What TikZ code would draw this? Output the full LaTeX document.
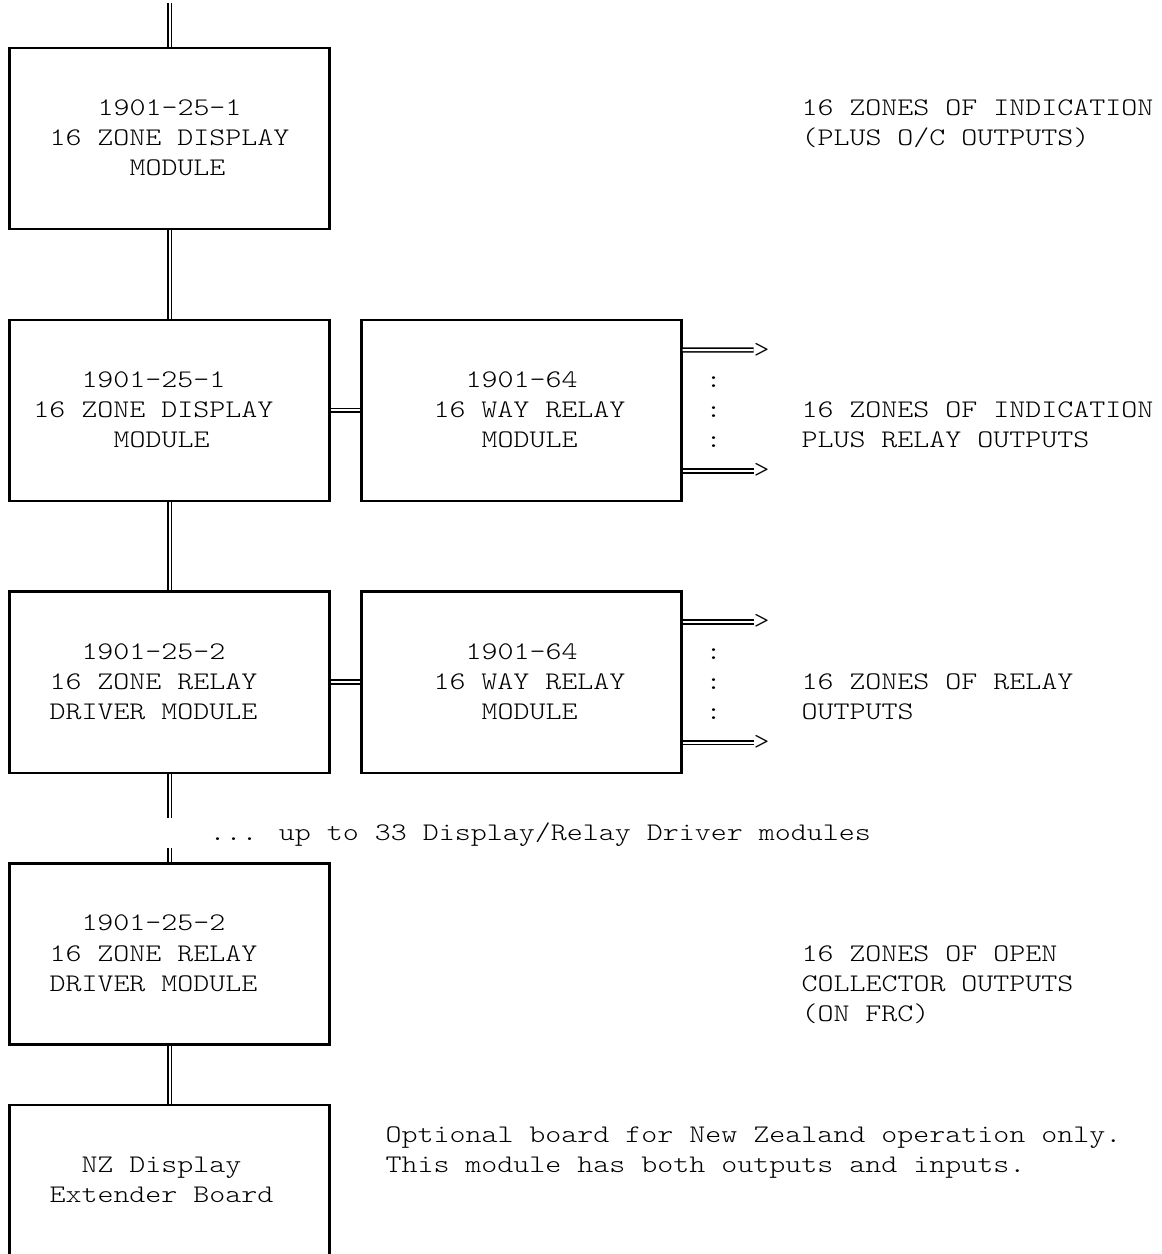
\documentclass[tikz,border=0pt]{standalone}
\usepackage{fontspec}
\newfontfamily\courlike[Extension=.otf, FakeStretch=1.203]{lmmonolt10-regular}
\usetikzlibrary{calc}
\tikzset{
  txt/.style={anchor=base west, inner sep=0pt, outer sep=0pt, font=\courlike\fontsize{19pt}{22.65pt}\selectfont, text=black},
  boxst/.style={draw=black, line width=1.8pt, minimum width=240pt, minimum height=135.9pt, inner sep=0pt, outer sep=0pt},
  dbl/.style={draw=black, double=white, line width=1.3pt, double distance=1.5pt},
  dblin/.style={dbl, shorten <=0.9pt, shorten >=0.9pt},
}
% text line: name, column, row, text
\newcommand{\tline}[4]{\node[txt] (#1) at ({1.5+16*#2},{24.9+30.2*#3}) {#4};}
\begin{document}
\begin{tikzpicture}[x=0.75pt,y=-0.75pt]
\useasboundingbox (0,0) rectangle (1162,1254);
\clip (0,0) rectangle (1162,1254);

% boxes
\node[boxst] (b1) at (169.5,138.6) {};
\node[boxst] (b2) at (169.5,410.4) {};
\node[boxst] (r2) at (521.5,410.4) {};
\node[boxst] (b3) at (169.5,682.2) {};
\node[boxst] (r3) at (521.5,682.2) {};
\node[boxst] (b4) at (169.5,954) {};
\node[boxst] (nz) at (169.5,1195.6) {};

% box texts
\tline{b1a}{6}{3}{1901-25-1}
\tline{b1b}{3}{4}{16 ZONE DISPLAY}
\tline{b1c}{8}{5}{MODULE}

\tline{b2a}{5}{12}{1901-25-1}
\tline{b2b}{2}{13}{16 ZONE DISPLAY}
\tline{b2c}{7}{14}{MODULE}

\tline{r2a}{29}{12}{1901-64}
\tline{r2b}{27}{13}{16 WAY RELAY}
\tline{r2c}{30}{14}{MODULE}

\tline{b3a}{5}{21}{1901-25-2}
\tline{b3b}{3}{22}{16 ZONE RELAY}
\tline{b3c}{3}{23}{DRIVER MODULE}

\tline{r3a}{29}{21}{1901-64}
\tline{r3b}{27}{22}{16 WAY RELAY}
\tline{r3c}{30}{23}{MODULE}

\tline{b4a}{5}{30}{1901-25-2}
\tline{b4b}{3}{31}{16 ZONE RELAY}
\tline{b4c}{3}{32}{DRIVER MODULE}

\tline{nza}{5}{38}{NZ Display}
\tline{nzb}{3}{39}{Extender Board}

% side texts
\tline{s1a}{50}{3}{16 ZONES OF INDICATION}
\tline{s1b}{50}{4}{(PLUS O/C OUTPUTS)}
\tline{s2a}{50}{13}{16 ZONES OF INDICATION}
\tline{s2b}{50}{14}{PLUS RELAY OUTPUTS}
\tline{s3a}{50}{22}{16 ZONES OF RELAY}
\tline{s3b}{50}{23}{OUTPUTS}
\tline{s4a}{50}{31}{16 ZONES OF OPEN}
\tline{s4b}{50}{32}{COLLECTOR OUTPUTS}
\tline{s4c}{50}{33}{(ON FRC)}
\tline{upto}{13}{27}{... up to 33 Display/Relay Driver modules}
\tline{nzn1}{24}{37}{Optional board for New Zealand operation only.}
\tline{nzn2}{24}{38}{This module has both outputs and inputs.}

% colons
\tline{c2a}{44}{12}{:}
\tline{c2b}{44}{13}{:}
\tline{c2c}{44}{14}{:}
\tline{c3a}{44}{21}{:}
\tline{c3b}{44}{22}{:}
\tline{c3c}{44}{23}{:}

% arrow heads
\tline{h2a}{47}{11}{>}
\tline{h2b}{47}{15}{>}
\tline{h3a}{47}{20}{>}
\tline{h3b}{47}{24}{>}

% free ends
\coordinate (top) at (169.5,2.7);
\coordinate (gapa) at (169.5,818.1);
\coordinate (gapb) at (169.5,848.3);
\coordinate (t2a) at (753.5,350);
\coordinate (t2b) at (753.5,470.8);
\coordinate (t3a) at (753.5,621.8);
\coordinate (t3b) at (753.5,742.6);

% bus connectors
\draw[dbl, shorten >=0.9pt] (top) -- (b1.north);
\draw[dblin] (b1.south) -- (b2.north);
\draw[dblin] (b2.south) -- (b3.north);
\draw[dbl, shorten <=0.9pt] (b3.south) -- (gapa);
\draw[dbl, shorten >=0.9pt] (gapb) -- (b4.north);
\draw[dblin] (b4.south) -- (nz.north);
\draw[dblin] (b2.east) -- (r2.west);
\draw[dblin] (b3.east) -- (r3.west);

% output arrows
\draw[dbl, shorten <=0.9pt] ($(r2.north east)+(0,30.2)$) -- (t2a);
\draw[dbl, shorten <=0.9pt] ($(r2.south east)+(0,-30.2)$) -- (t2b);
\draw[dbl, shorten <=0.9pt] ($(r3.north east)+(0,30.2)$) -- (t3a);
\draw[dbl, shorten <=0.9pt] ($(r3.south east)+(0,-30.2)$) -- (t3b);
\end{tikzpicture}
\end{document}
